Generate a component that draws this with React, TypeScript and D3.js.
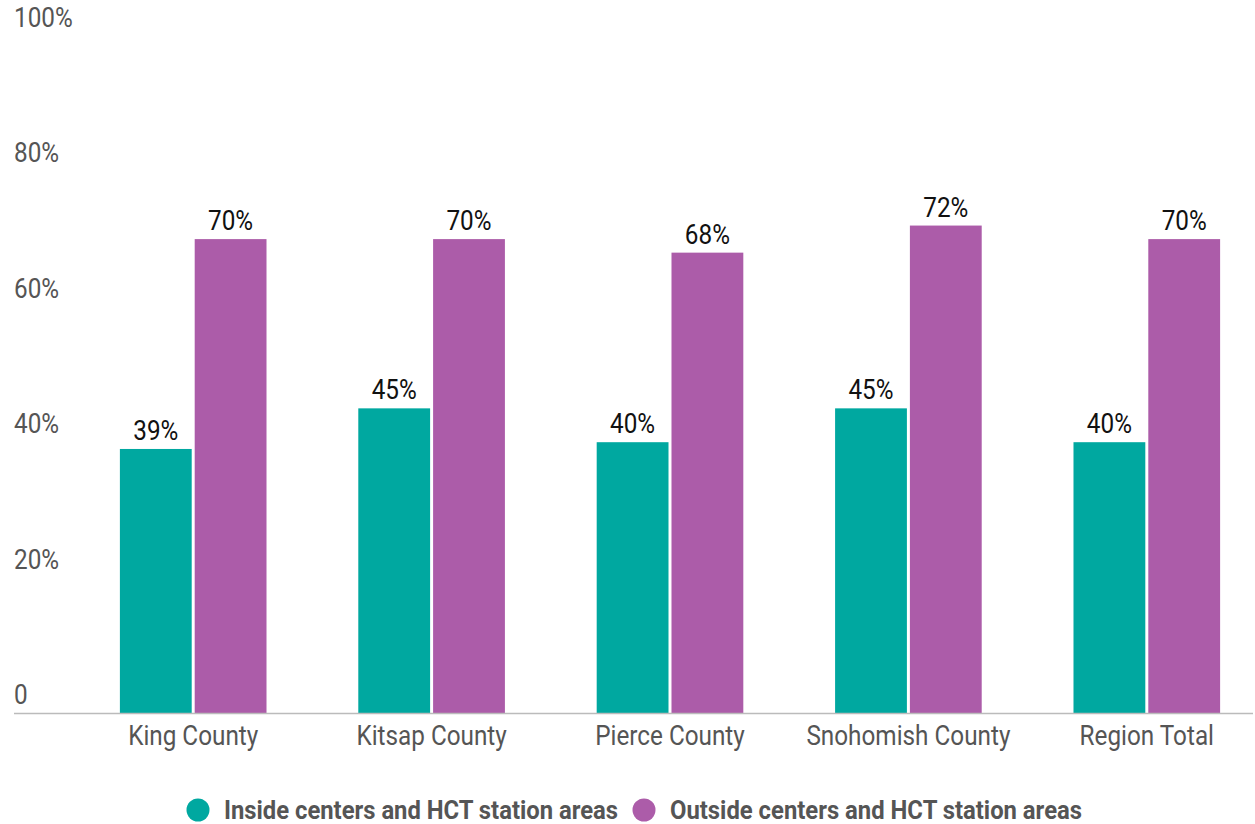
import React from "react";
import * as d3 from "d3";

const categories = ["King County", "Kitsap County", "Pierce County", "Snohomish County", "Region Total"];
const seriesNames = ["Inside centers and HCT station areas", "Outside centers and HCT station areas"];
const insideValues = [39, 45, 40, 45, 40];
const outsideValues = [70, 70, 68, 72, 70];
const yTicks = [0, 20, 40, 60, 80, 100];
const colors = ["#00A8A0", "#AC5CA9"];

const W = 1255;
const H = 824;
const FONT = "Roboto, 'Noto Sans', sans-serif";
const SX = 0.9;

function CText({ x, y, size, fill, weight, anchor, children, len }: any) {
  return (
    <g transform={`translate(${x},${y}) scale(${SX},1)`}>
      <text
        fontFamily={FONT}
        fontSize={size}
        fill={fill}
        fontWeight={weight || 400}
        textAnchor={anchor || "middle"}
        textLength={len ? len / SX : undefined}
        lengthAdjust={len ? "spacingAndGlyphs" : undefined}
      >
        {children}
      </text>
    </g>
  );
}

export default function App() {
  const y = d3.scaleLinear().domain([0, 100]).range([713, 36]);
  const x0 = d3.scaleBand<string>().domain(categories).range([74, 1266]).paddingInner(0.385).paddingOuter(0.1925);
  const x1 = d3.scaleBand<string>().domain(seriesNames).range([0, x0.bandwidth()]).paddingInner(0.04);
  const data = [insideValues, outsideValues];

  return (
    <svg width={W} height={H} style={{ position: "absolute", left: 0, top: 0, background: "#fff" }}>
      {yTicks.map((t) => (
        <CText key={t} x={14} y={y(t) - 9} size={27} fill="#555" anchor="start">
          {t === 0 ? "0" : `${t}%`}
        </CText>
      ))}
      {categories.map((c, i) => (
        <g key={c}>
          {seriesNames.map((s, j) => {
            const v = data[j][i];
            const bx = (x0(c) as number) + (x1(s) as number);
            return (
              <g key={s}>
                <rect x={bx} y={y(v)} width={x1.bandwidth()} height={y(0) - y(v)} fill={colors[j]} />
                <CText x={bx + x1.bandwidth() / 2} y={y(v) - 9} size={27} fill="#111">
                  {`${v}%`}
                </CText>
              </g>
            );
          })}
          <CText x={(x0(c) as number) + x0.bandwidth() / 2} y={745} size={27} fill="#555">
            {c}
          </CText>
        </g>
      ))}
      <line x1={14} x2={1253} y1={713.5} y2={713.5} stroke="#bbb" strokeWidth={1.5} />
      <circle cx={198} cy={810} r={11.5} fill={colors[0]} />
      <CText x={224} y={819} size={26} fill="#555" weight={700} anchor="start" len={394}>
        {seriesNames[0]}
      </CText>
      <circle cx={644} cy={810} r={11.5} fill={colors[1]} />
      <CText x={670} y={819} size={26} fill="#555" weight={700} anchor="start" len={412}>
        {seriesNames[1]}
      </CText>
    </svg>
  );
}
